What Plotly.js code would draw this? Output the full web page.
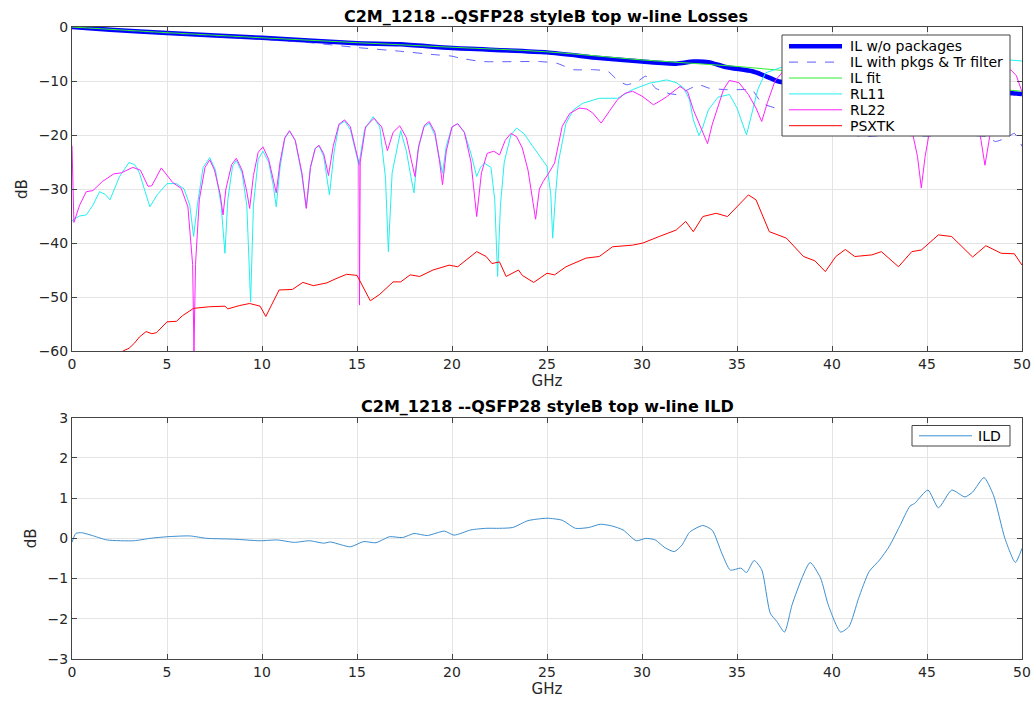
<!DOCTYPE html>
<html>
<head>
<meta charset="utf-8">
<script src="https://cdn.plot.ly/plotly-3.0.1.min.js"></script>
<style>html,body{margin:0;padding:0;background:#fff;}#chart{width:1033px;height:701px;}</style>
</head>
<body>
<div id="chart"></div>
<script>
// ---- Data ----
const ilNoPkgF = [0,2,5,10,15,17.3,20,25,27.75,30,31.8,32.7,33.5,34.4,35.8,36.3,37.2,38,40,42,44,46,48,49.3,50];
const ilNoPkgDb = [0,-0.5,-1.1,-2.0,-3.0,-3.2,-3.9,-4.7,-5.75,-6.4,-6.8,-6.4,-6.5,-7.4,-8.2,-8.8,-10.1,-10.5,-10.8,-11.2,-11.5,-11.8,-12.0,-12.2,-12.4];

const ilPkgF = [0,5,10,12.5,15,17.3,19,20,20.4,21.6,24.6,25.5,26.4,27.4,28.2,28.7,29.2,29.8,30.2,30.7,31.3,31.8,32.3,33.0,33.5,34.4,35.0,35.8,36.3,37.0,38,39,40,41.6,43,45,46.5,48.1,48.6,49.2,49.6,50];
const ilPkgDb = [0,-1.2,-2.3,-2.9,-3.8,-4.5,-5.1,-5.4,-5.75,-6.4,-6.4,-6.7,-7.9,-7.9,-8.2,-9.8,-10.7,-10.0,-9.1,-11.3,-12.2,-12.5,-11.8,-10.7,-11.3,-11.6,-11.6,-11.7,-14.1,-15,-16.5,-18,-19,-20.3,-20,-20.2,-20,-20.3,-21.2,-20.5,-19.7,-22.1];

const ilFitF = [0,5,10,15,20,25,30,35,40,45,50];
const ilFitDb = [0,-1.05,-2.0,-2.9,-3.75,-4.6,-6.1,-7.3,-8.9,-10.4,-11.9];

const rl11F = [0,0.05,0.4,0.75,1.1,1.45,1.75,2.0,2.5,3.0,3.3,3.55,3.85,4.1,4.5,5.0,5.5,5.9,6.2,6.4,6.6,6.9,7.25,7.55,7.85,8.05,8.2,8.45,8.65,8.95,9.2,9.4,9.55,9.8,10.05,10.35,10.6,10.75,10.95,11.2,11.45,11.75,12.1,12.33,12.55,12.8,13.0,13.25,13.55,13.8,14.05,14.35,14.65,14.95,15.1,15.4,15.85,16.2,16.5,16.65,16.85,17.3,17.6,17.85,18.0,18.2,18.5,18.8,19.1,19.35,19.5,19.7,20.0,20.3,20.65,21.0,21.3,21.5,21.7,22.05,22.25,22.4,22.55,22.75,23.1,23.4,23.8,24.25,25.0,25.2,25.3,25.45,25.6,26.0,26.4,26.9,27.75,28.7,29.5,30.4,31.3,31.8,32.2,32.5,32.7,33.0,33.2,33.5,34.0,34.6,35.0,35.5,35.8,36.1,36.5,37.3,38.5,40,42,44,46,48,49,50];
const rl11Db = [-36,-35.7,-35,-34.8,-33,-30.5,-31,-32,-27.7,-25.1,-25.5,-27,-30.5,-33.3,-31,-29,-29,-30,-33,-38.8,-33,-26,-24.2,-26.5,-33,-41.9,-32,-25.8,-24.7,-27,-33,-50.9,-33,-24.5,-23,-25,-29.5,-33.3,-26,-20.6,-19.3,-21,-27.5,-33.5,-26,-22.5,-22.0,-24,-31.1,-23,-18.2,-17.4,-19,-23.5,-25.5,-19,-16.6,-18.5,-28,-41.6,-27,-19.2,-23,-28,-30.7,-23,-18.6,-17.8,-20,-24.5,-27.1,-22,-18.5,-17.9,-19.5,-23.5,-27.7,-26,-25.2,-26,-32,-46.2,-33,-25,-20,-18.7,-19.8,-22.1,-25.8,-31,-39.1,-31,-25,-17.8,-15.3,-14.1,-13.2,-13.2,-11.6,-10.4,-9.8,-10.3,-11.3,-13.5,-17.2,-20.1,-18.5,-15.3,-13,-12.5,-15,-20,-16,-11.5,-8.5,-7.5,-8,-7,-8,-7,-6.5,-6.2,-6,-6.3];

const rl22F = [0,0.1,0.4,0.75,1.1,1.6,2.2,2.6,3.2,3.6,4.0,4.2,4.7,5.3,5.75,6.1,6.35,6.42,6.5,6.7,7.0,7.25,7.5,7.8,7.95,8.1,8.4,8.65,8.95,9.2,9.35,9.55,9.8,10.05,10.35,10.6,10.75,10.95,11.2,11.45,11.75,12.1,12.33,12.55,12.8,13.0,13.25,13.5,13.75,14.05,14.35,14.65,14.95,15.1,15.13,15.17,15.45,15.9,16.3,16.6,16.9,17.25,17.6,17.9,18.05,18.25,18.55,18.8,19.1,19.35,19.5,19.7,20.0,20.3,20.65,21.0,21.3,21.55,21.85,22.2,22.5,22.8,23.1,23.4,23.7,24.0,24.4,24.6,24.8,25.1,25.4,25.8,26.2,26.7,27.1,27.4,27.85,28.3,28.7,29.1,29.5,30.0,30.6,31.0,31.3,32.0,32.4,32.7,33.1,33.45,33.7,33.9,34.3,34.6,35.1,35.6,36.0,36.3,36.6,37.0,37.5,38.0,38.5,39.5,40.5,41.5,42.5,43.5,44.2,44.5,44.7,44.9,45.1,45.5,46.5,47.3,47.8,48.05,48.3,48.6,49.0,49.4,49.7,50.0];
const rl22Db = [-22,-36.2,-33,-30.5,-30.3,-28.6,-27.2,-27,-26,-26.5,-29.5,-29.4,-26.1,-28.8,-29.9,-33.3,-44,-60,-44,-32,-26,-24.6,-26.5,-31,-34.8,-30,-25.5,-24.3,-26.5,-30.5,-33.6,-27.5,-23.2,-22.2,-24.5,-28.5,-30.7,-25,-20.5,-19.2,-21,-27,-33.6,-26,-22.5,-21.9,-23.5,-27.5,-22,-18,-17.2,-18.5,-23,-25.2,-51.5,-25,-18.5,-16.9,-18.5,-22.9,-19.5,-18.3,-20.5,-25,-27.7,-22,-18.2,-17.5,-19.5,-25,-29.2,-23,-18.5,-17.9,-19.5,-25,-35.1,-27,-23.4,-23.0,-23.7,-21,-19.7,-20.3,-22.4,-26.5,-35.6,-30,-28.6,-27,-25.2,-18.4,-16,-15.0,-15.2,-15.9,-17.8,-15.5,-13.5,-12.3,-11.9,-12.8,-14.4,-13.6,-12.9,-11,-12,-15.3,-18.5,-21.6,-18,-15.9,-11.5,-9.9,-10.3,-12.5,-15,-17.5,-14,-10,-7.9,-7.6,-9,-12,-10,-12,-13,-16,-19,-24,-29.8,-24,-20,-18,-14,-16,-20,-25.6,-20,-14,-9.5,-7.9,-9,-12];

const psxtkF = [2.68,3.0,3.3,3.55,3.9,4.2,4.45,5.0,5.5,5.8,6.4,7.25,8.05,8.2,8.8,9.35,9.9,10.2,10.5,10.9,11.6,12.15,12.7,13.4,13.9,14.45,15.0,15.3,15.7,16.2,16.9,17.3,17.8,18.3,19.0,19.85,20.3,21.3,21.8,22.1,22.5,22.85,23.5,23.7,24.3,25.0,25.4,26.0,27.05,27.75,28.45,29.5,30.05,30.9,31.8,32.3,32.7,33.2,33.9,34.5,35.0,35.6,36.0,36.7,37.6,38.5,39.1,39.65,40.2,40.7,41.2,42.1,42.6,43.5,44.2,44.7,45.6,46.3,47.4,48.1,48.9,49.6,50.0];
const psxtkDb = [-60,-59.5,-58.5,-57.4,-56.4,-56.8,-56.6,-54.6,-54.5,-53.5,-52.1,-51.8,-51.7,-52.2,-51.6,-51.2,-51.7,-53.6,-51.5,-48.7,-48.6,-47.3,-47.9,-47.4,-46.6,-45.8,-46.0,-48,-50.7,-49.5,-47.2,-47.2,-45.9,-46.2,-45.0,-44.1,-44.4,-41.6,-42.5,-43.8,-43.5,-46.2,-45.0,-46.0,-47.3,-45.6,-45.9,-44.4,-42.8,-42.5,-40.7,-40.4,-40.0,-38.8,-37.6,-36.0,-37.9,-35.1,-34.5,-35.1,-33.3,-31.1,-32,-37.9,-39.1,-42.5,-43.3,-45.3,-42.5,-41.2,-42.5,-42.2,-41.6,-44.4,-41.6,-41.3,-38.5,-38.8,-42.6,-40.5,-41.9,-42.0,-44.1];

const ildF = [0,0.2,0.5,1.0,1.85,3.25,4.1,5.0,6.2,7.1,8.5,9.9,10.8,11.7,12.5,13.25,13.6,14.65,15.35,16.0,16.7,17.4,18.0,18.7,19.6,20.1,21.0,21.8,22.5,23.2,24.0,25.0,25.8,26.5,27.2,27.8,28.4,29.0,29.7,30.2,30.7,31.2,31.7,32.1,32.5,33.2,33.7,34.2,34.65,35.2,35.5,35.9,36.3,36.75,37.1,37.5,37.9,38.45,38.85,39.4,39.8,40.45,40.9,41.4,41.95,42.5,43.0,43.55,44.1,44.35,45.05,45.6,46.3,47.0,47.4,48.0,48.5,49.1,49.65,50.0];
const ildDb = [-0.1,0.12,0.14,0.08,-0.04,-0.06,0.0,0.04,0.06,0.0,-0.02,-0.06,-0.04,-0.1,-0.06,-0.12,-0.09,-0.21,-0.08,-0.11,0.04,0.02,0.12,0.07,0.18,0.08,0.21,0.25,0.25,0.27,0.44,0.5,0.45,0.25,0.27,0.35,0.31,0.21,-0.06,0.0,-0.04,-0.23,-0.33,-0.17,0.15,0.32,0.2,-0.37,-0.79,-0.74,-0.85,-0.55,-0.78,-1.86,-2.07,-2.33,-1.65,-0.95,-0.6,-0.99,-1.65,-2.33,-2.19,-1.49,-0.83,-0.54,-0.21,0.29,0.8,0.87,1.2,0.76,1.2,1.03,1.15,1.51,1.07,0.0,-0.6,-0.25];

const seriesNames = ['IL w/o packages','IL with pkgs & Tr filter','IL fit','RL11','RL22','PSXTK','ILD'];
const xTicks = [0,5,10,15,20,25,30,35,40,45,50];
const topTitle = 'C2M_1218 --QSFP28 styleB top w-line Losses';
const bottomTitle = 'C2M_1218 --QSFP28 styleB top w-line ILD';

// ---- Traces ----
const topLines = [
  {color:'#0000ff', width:4.5, shape:'spline', smoothing:0.6},
  {color:'rgba(40,40,255,0.75)', width:1, dash:'dash', shape:'spline', smoothing:0.5},
  {color:'#33ee33', width:1, shape:'spline'},
  {color:'#22f0f0', width:1},
  {color:'#ff22ff', width:1},
  {color:'#ff0000', width:1}
];
const ildLine = {color:'#3d8fd0', width:1, shape:'spline', smoothing:0.6};
const topX = [ilNoPkgF, ilPkgF, ilFitF, rl11F, rl22F, psxtkF];
const topY = [ilNoPkgDb, ilPkgDb, ilFitDb, rl11Db, rl22Db, psxtkDb];

const traces = topX.map((xs, i) => ({
  x: xs, y: topY[i], name: seriesNames[i], type:'scatter', mode:'lines',
  line: topLines[i], xaxis:'x', yaxis:'y', showlegend:false
}));
traces.push({x: ildF, y: ildDb, name: seriesNames[6], type:'scatter', mode:'lines',
  line: ildLine, xaxis:'x2', yaxis:'y2', showlegend:false});

const FONT = 'DejaVu Sans, Liberation Sans, Arial, sans-serif';
const axisCommon = {
  showline:true, mirror:'ticks', linecolor:'#444', linewidth:1,
  ticks:'inside', ticklen:5, tickcolor:'#444', tickwidth:1,
  showgrid:true, gridcolor:'#e4e4e4', gridwidth:1, zeroline:false,
  tickfont:{family:FONT, size:14, color:'#262626'}
};
const axTitleFont = {family:FONT, size:15, color:'#262626'};

// ---- Legend boxes (placed in paper coordinates) ----
const W = 1033, H = 701, ML = 72, MR = 11, MT = 27, MB = 42;
const PW = W - ML - MR, PH = H - MT - MB;
const px = v => (v - ML) / PW;
const py = v => (H - MB - v) / PH;

const shapes = [];
const annotations = [];
function addLegend(box, rows, row0, step, lx0, lx1, tx) {
  shapes.push({type:'rect', xref:'paper', yref:'paper', layer:'above',
    x0:px(box.x0), x1:px(box.x1), y0:py(box.y1), y1:py(box.y0),
    fillcolor:'#ffffff', line:{color:'#444', width:1}});
  rows.forEach((r, i) => {
    const yy = py(row0 + i * step);
    shapes.push({type:'line', xref:'paper', yref:'paper', layer:'above',
      x0:px(lx0), x1:px(lx1), y0:yy, y1:yy,
      line:{color:r.line.color, width:r.line.width, dash:r.line.dash || 'solid'}});
    annotations.push({text:r.name, xref:'paper', yref:'paper', x:px(tx), y:yy,
      xanchor:'left', yanchor:'middle', showarrow:false, font:{family:FONT, size:14, color:'#000'}});
  });
}
addLegend({x0:782, x1:1010, y0:35, y1:136},
  topLines.map((ln, i) => ({line:ln, name:seriesNames[i]})), 46.2, 15.9, 789, 842, 848);
addLegend({x0:912, x1:1010, y0:425.5, y1:446},
  [{line:ildLine, name:seriesNames[6]}], 435.8, 0, 919, 972, 976);

annotations.push({text:'<b>'+bottomTitle+'</b>', xref:'paper', yref:'paper', x:0.5, xanchor:'center',
  y:py(406), yanchor:'middle', showarrow:false, font:{family:FONT, size:16, color:'#000'}});

const layout = {
  width:W, height:H,
  paper_bgcolor:'#ffffff', plot_bgcolor:'#ffffff',
  margin:{l:ML, r:MR, t:MT, b:MB},
  font:{family:FONT, color:'#262626'},
  showlegend:false,
  title:{text:'<b>'+topTitle+'</b>', x:0.5285, xanchor:'center', y:0.977, yanchor:'middle', font:{family:FONT, size:16, color:'#000'}},
  xaxis: Object.assign({}, axisCommon, {domain:[0,1], range:[0,50], tickvals:xTicks, anchor:'y',
    title:{text:'GHz', font:axTitleFont, standoff:1}}),
  yaxis: Object.assign({}, axisCommon, {domain:[py(351),1], range:[-60,0], dtick:10, anchor:'x',
    title:{text:'dB', font:axTitleFont, standoff:7}}),
  xaxis2: Object.assign({}, axisCommon, {domain:[0,1], range:[0,50], tickvals:xTicks, anchor:'y2',
    title:{text:'GHz', font:axTitleFont, standoff:1}}),
  yaxis2: Object.assign({}, axisCommon, {domain:[0,py(417.7)], range:[-3,3], dtick:1, anchor:'x2',
    title:{text:'dB', font:axTitleFont, standoff:7}}),
  shapes: shapes,
  annotations: annotations
};

Plotly.newPlot('chart', traces, layout, {displayModeBar:false, staticPlot:true});
</script>
</body>
</html>
